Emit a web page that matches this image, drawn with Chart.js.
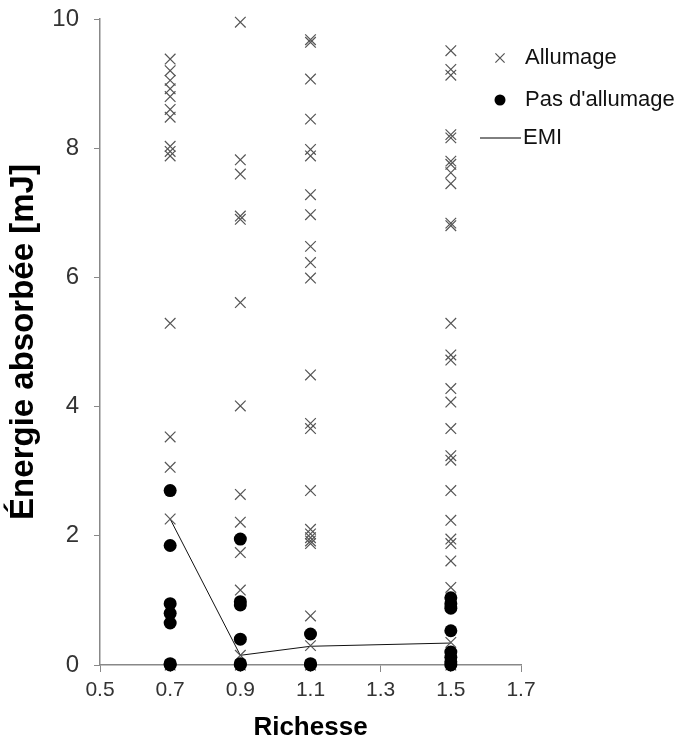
<!DOCTYPE html>
<html lang="fr">
<head>
<meta charset="UTF-8">
<title>Énergie absorbée</title>
<script src="https://cdn.jsdelivr.net/npm/chart.js"></script>
<style>
  body { margin: 0; background: #fff; }
</style>
</head>
<body>
<canvas id="chart" width="694" height="743"></canvas>
<script>
    // richesse des mélanges testés
    const richesse = [0.7, 0.9, 1.1, 1.5];

    // énergies (mJ) avec allumage, une liste par richesse
    const allumage07 = [9.38, 9.20, 9.05, 8.92, 8.80, 8.60, 8.48, 8.03, 7.95, 7.88, 5.29, 3.53, 3.06, 2.26, 0];
    const allumage09 = [9.95, 7.82, 7.60, 6.95, 6.90, 5.61, 4.01, 2.64, 2.21, 1.74, 1.16, 0.95, 0.15, 0];
    const allumage11 = [9.68, 9.64, 9.07, 8.45, 7.98, 7.88, 7.28, 6.97, 6.48, 6.23, 5.99, 4.49, 3.74, 3.66, 2.70, 2.10, 2.03, 1.97, 1.92, 1.88, 0.76, 0.30, 0];
    const allumage15 = [9.51, 9.22, 9.13, 8.21, 8.16, 7.80, 7.75, 7.62, 7.45, 6.84, 6.80, 5.29, 4.80, 4.72, 4.28, 4.07, 3.66, 3.24, 3.17, 2.70, 2.24, 1.95, 1.88, 1.61, 1.20, 0.35, 0];

    // énergies (mJ) sans allumage
    const pasAllumage07 = [2.70, 1.85, 0.95, 0.80, 0.65, 0.02, 0];
    const pasAllumage09 = [1.95, 0.98, 0.93, 0.40, 0.02, 0];
    const pasAllumage11 = [0.48, 0.02, 0];
    const pasAllumage15 = [1.04, 0.95, 0.88, 0.53, 0.20, 0.12, 0.05, 0];

    // énergie minimale d'inflammation
    const emi = [2.26, 0.15, 0.29, 0.34];

    const xTicks = [0.5, 0.7, 0.9, 1.1, 1.3, 1.5, 1.7];

    function toPoints(lists) {
        const pts = [];
        lists.forEach((list, i) => list.forEach(v => pts.push({ x: richesse[i], y: v })));
        return pts;
    }

    const FONT = '"Liberation Sans", Arial, sans-serif';

    const legendPlugin = {
        id: 'sideLegend',
        afterDraw(chart) {
            const ctx = chart.ctx;
            ctx.save();
            ctx.font = '22px ' + FONT;
            ctx.textBaseline = 'middle';
            ctx.strokeStyle = '#555';
            ctx.lineWidth = 1.2;
            Chart.helpers.drawPoint(ctx, { pointStyle: 'crossRot', radius: 6.5, borderWidth: 1.2 }, 500, 58);
            ctx.fillStyle = '#111';
            ctx.fillText('Allumage', 525, 58);
            ctx.fillStyle = '#000';
            ctx.beginPath();
            ctx.arc(500, 100, 5.5, 0, Math.PI * 2);
            ctx.fill();
            ctx.fillStyle = '#111';
            ctx.fillText("Pas d'allumage", 525, 100);
            ctx.strokeStyle = '#000';
            ctx.lineWidth = 1;
            ctx.beginPath();
            ctx.moveTo(480, 138);
            ctx.lineTo(521, 138);
            ctx.stroke();
            ctx.fillText('EMI', 523, 138);
            ctx.restore();
        }
    };

    new Chart(document.getElementById('chart'), {
        type: 'scatter',
        data: {
            datasets: [
                {
                    label: 'EMI',
                    type: 'line',
                    data: emi.map((v, i) => ({ x: richesse[i], y: v })),
                    borderColor: '#111',
                    borderWidth: 1,
                    pointRadius: 0,
                    fill: false,
                    tension: 0,
                    order: 3
                },
                {
                    label: 'Allumage',
                    data: toPoints([allumage07, allumage09, allumage11, allumage15]),
                    pointStyle: 'crossRot',
                    pointRadius: 7.5,
                    borderColor: '#555',
                    borderWidth: 1.2,
                    clip: false,
                    order: 2
                },
                {
                    label: "Pas d'allumage",
                    data: toPoints([pasAllumage07, pasAllumage09, pasAllumage11, pasAllumage15]),
                    pointStyle: 'circle',
                    pointRadius: 6.5,
                    backgroundColor: '#000',
                    borderColor: '#000',
                    borderWidth: 0,
                    clip: false,
                    order: 1
                }
            ]
        },
        options: {
            responsive: false,
            animation: false,
            layout: { padding: { top: 19, right: 173, left: 0, bottom: 0 } },
            plugins: {
                legend: { display: false },
                tooltip: { enabled: false }
            },
            scales: {
                x: {
                    type: 'linear',
                    min: 0.5,
                    max: 1.7,
                    afterFit: s => { s.height = 78; },
                    afterBuildTicks: s => { s.ticks = xTicks.map(v => ({ value: v })); },
                    grid: { drawOnChartArea: false, color: '#888', tickLength: 7 },
                    border: { color: '#888', width: 1.5 },
                    ticks: {
                        padding: 6,
                        color: '#333',
                        font: { family: FONT, size: 21 },
                        callback: v => v.toFixed(1)
                    },
                    title: {
                        display: true,
                        text: 'Richesse',
                        color: '#000',
                        font: { family: FONT, size: 26, weight: 'bold' },
                        padding: { top: 0, bottom: 0 }
                    }
                },
                y: {
                    min: 0,
                    max: 10,
                    afterFit: s => { s.width = 100; s.paddingTop = 0; },
                    grid: { drawOnChartArea: false, color: '#888', tickLength: 6 },
                    border: { color: '#888', width: 1.5 },
                    ticks: {
                        stepSize: 2,
                        padding: 15,
                        color: '#333',
                        font: { family: FONT, size: 24, lineHeight: 0.6 }
                    },
                    title: {
                        display: true,
                        text: 'Énergie absorbée [mJ]',
                        color: '#000',
                        font: { family: FONT, size: 33, weight: 'bold' },
                        padding: { top: 4, bottom: 0 }
                    }
                }
            }
        },
        plugins: [legendPlugin]
    });
</script>
</body>
</html>
